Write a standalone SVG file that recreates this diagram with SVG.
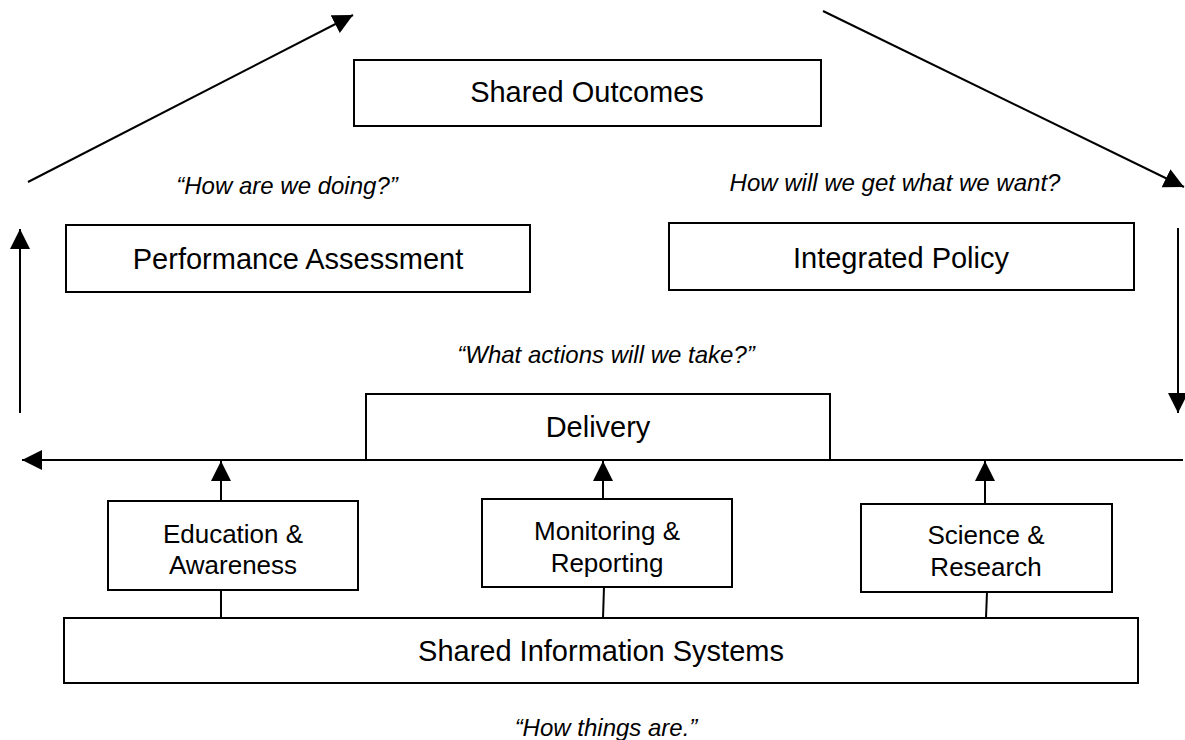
<svg xmlns="http://www.w3.org/2000/svg" width="1185" height="740" viewBox="0 0 1185 740">
  <style>
    .box { fill: #fff; stroke: #000; stroke-width: 2; }
    .label { font-family: "Liberation Sans", Arial, sans-serif; font-size: 29px; fill: #000; text-anchor: middle; }
    .small { font-family: "Liberation Sans", Arial, sans-serif; font-size: 26px; fill: #000; text-anchor: middle; }
    .note { font-family: "Liberation Sans", Arial, sans-serif; font-size: 24px; font-style: italic; fill: #000; text-anchor: middle; }
    .conn { fill: none; stroke: #000; stroke-width: 2; }
  </style>
  <defs>
    <marker id="arrow" markerUnits="userSpaceOnUse" markerWidth="22" markerHeight="22" refX="20" refY="10" orient="auto">
      <path d="M0,0 L20,10 L0,20 Z" fill="#000"/>
    </marker>
  </defs>
  <rect width="1185" height="740" fill="#fff"/>

  <g id="connectors">
    <!-- outer cycle -->
    <line class="conn" x1="28" y1="182" x2="353" y2="15" marker-end="url(#arrow)"/>
    <line class="conn" x1="823" y1="11" x2="1184" y2="187" marker-end="url(#arrow)"/>
    <line class="conn" x1="1178" y1="228" x2="1178" y2="413" marker-end="url(#arrow)"/>
    <line class="conn" x1="1183" y1="460" x2="22" y2="460" marker-end="url(#arrow)"/>
    <line class="conn" x1="20" y1="413" x2="20" y2="229" marker-end="url(#arrow)"/>
    <!-- supporting pillars up to delivery line -->
    <line class="conn" x1="221" y1="501" x2="221" y2="461" marker-end="url(#arrow)"/>
    <line class="conn" x1="603" y1="499" x2="603" y2="461" marker-end="url(#arrow)"/>
    <line class="conn" x1="985" y1="504" x2="985" y2="461" marker-end="url(#arrow)"/>
    <!-- pillars down to information systems -->
    <line class="conn" x1="221" y1="590" x2="221" y2="618"/>
    <line class="conn" x1="604" y1="587" x2="603" y2="618"/>
    <line class="conn" x1="987" y1="592" x2="986" y2="618"/>
  </g>

  <g id="shared-outcomes">
    <rect class="box" x="354" y="60" width="467" height="66"/>
    <text class="label" x="587" y="102">Shared Outcomes</text>
  </g>

  <g id="performance-assessment">
    <rect class="box" x="66" y="225" width="464" height="67"/>
    <text class="label" x="298" y="269">Performance Assessment</text>
  </g>

  <g id="integrated-policy">
    <rect class="box" x="669" y="223" width="465" height="67"/>
    <text class="label" x="901" y="268">Integrated Policy</text>
  </g>

  <g id="delivery">
    <rect class="box" x="366" y="394" width="464" height="66"/>
    <text class="label" x="598" y="437">Delivery</text>
  </g>

  <g id="education-awareness">
    <rect class="box" x="108" y="501" width="250" height="89"/>
    <text class="small" x="233" y="543">Education &amp;</text>
    <text class="small" x="233" y="574">Awareness</text>
  </g>

  <g id="monitoring-reporting">
    <rect class="box" x="482" y="499" width="250" height="88"/>
    <text class="small" x="607" y="540">Monitoring &amp;</text>
    <text class="small" x="607" y="572">Reporting</text>
  </g>

  <g id="science-research">
    <rect class="box" x="861" y="504" width="251" height="88"/>
    <text class="small" x="986" y="544">Science &amp;</text>
    <text class="small" x="986" y="576">Research</text>
  </g>

  <g id="shared-information-systems">
    <rect class="box" x="64" y="618" width="1074" height="65"/>
    <text class="label" x="601" y="661">Shared Information Systems</text>
  </g>

  <g id="notes">
    <text class="note" x="287" y="194">“How are we doing?”</text>
    <text class="note" x="895" y="191">How will we get what we want?</text>
    <text class="note" x="606" y="363">“What actions will we take?”</text>
    <text class="note" x="606" y="736">“How things are.”</text>
  </g>
</svg>
